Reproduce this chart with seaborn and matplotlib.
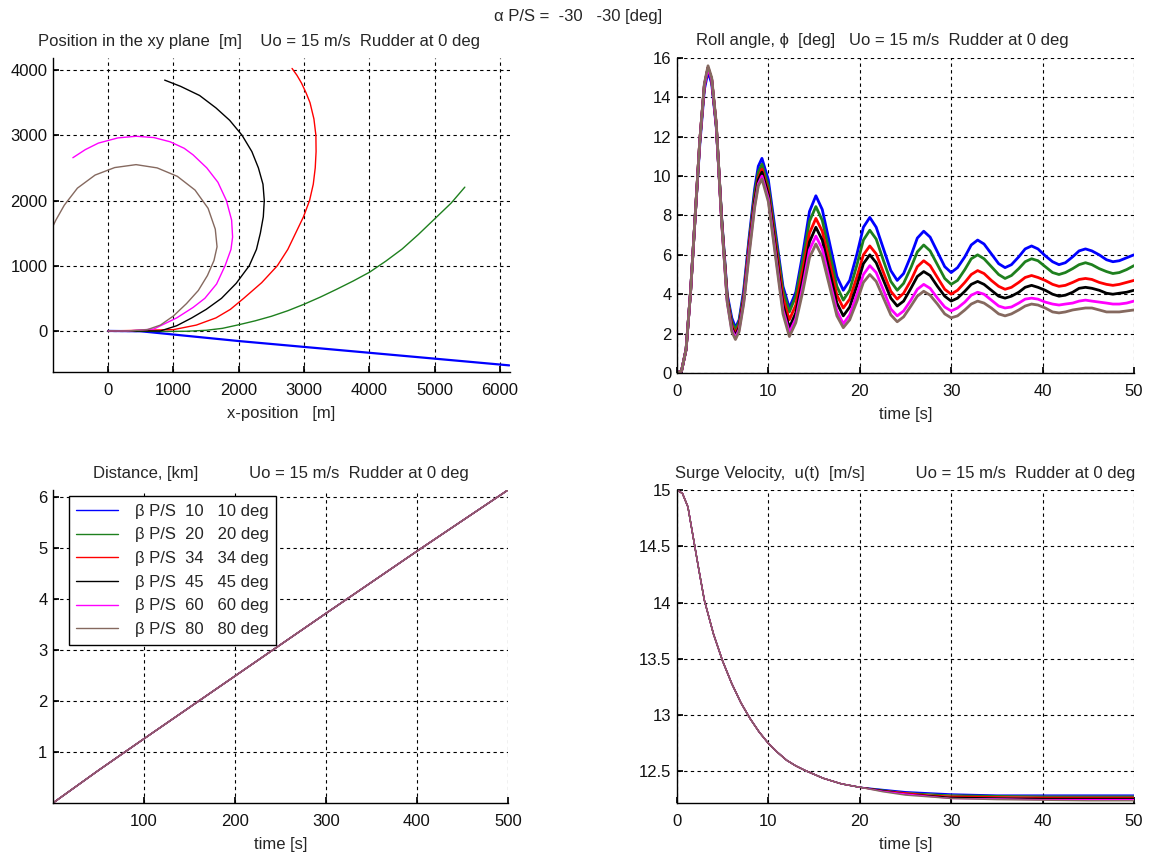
import numpy as np
import pandas as pd
import seaborn as sns
import matplotlib.pyplot as plt

# series colours / legend text
colors = ['#0000ff', '#1e801e', '#ff0000', '#000000', '#ff00ff', '#85695f']
labels = ['β P/S  10   10 deg', 'β P/S  20   20 deg', 'β P/S  34   34 deg',
          'β P/S  45   45 deg', 'β P/S  60   60 deg', 'β P/S  80   80 deg']

# ---- xy trajectories [m]
xy_blue_x = [0, 500, 1000, 2000, 3000, 4000, 5000, 6140]
xy_blue_y = [0, -5, -55, -155, -245, -335, -425, -528]
xy_green_x = [0, 800, 1200, 1500, 1750, 2000, 2250, 2500, 2750, 3000, 3250, 3500, 3750, 4000,
              4250, 4500, 4750, 5000, 5250, 5460]
xy_green_y = [0, -8, -5, 10, 40, 95, 155, 225, 310, 410, 520, 640, 765, 900,
              1070, 1256, 1480, 1720, 1960, 2205]
xy_red_x = [0, 1000, 1350, 1650, 1870, 2075, 2350, 2590, 2750, 2870, 2990, 3083, 3140, 3170,
            3183, 3180, 3150, 3090, 3030, 2960, 2890, 2815]
xy_red_y = [0, 20, 90, 200, 330, 500, 740, 1000, 1250, 1500, 1750, 2000, 2250, 2500,
            2750, 3000, 3250, 3500, 3650, 3800, 3920, 4025]
xy_black_x = [0, 800, 1050, 1280, 1500, 1735, 1960, 2160, 2270, 2330, 2375, 2390, 2370, 2300,
              2200, 2050, 1860, 1650, 1400, 1110, 865]
xy_black_y = [0, 0, 80, 200, 330, 500, 730, 1000, 1250, 1500, 1750, 2000, 2250, 2500,
              2750, 3000, 3230, 3420, 3610, 3750, 3846]
xy_mag_x = [0, 300, 700, 1050, 1300, 1480, 1660, 1790, 1880, 1905, 1890, 1810, 1680, 1510,
            1300, 1165, 950, 700, 427, 150, -150, -350, -540]
xy_mag_y = [0, 0, 30, 200, 360, 500, 720, 1000, 1250, 1440, 1700, 2000, 2280, 2500,
            2700, 2800, 2900, 2965, 2985, 2960, 2880, 2780, 2656]
xy_brown_x = [0, 300, 600, 800, 1000, 1200, 1380, 1520, 1620, 1667, 1640, 1530, 1330, 1060,
              750, 427, 100, -200, -470, -670, -800, -853]
xy_brown_y = [0, 0, 20, 90, 230, 420, 620, 850, 1080, 1290, 1560, 1880, 2160, 2370,
              2500, 2550, 2505, 2390, 2190, 1930, 1700, 1590]

# ---- roll angle [deg]
t_roll = [0, 0.5, 1.0, 1.5, 2.0, 2.5, 3.0, 3.4, 3.8, 4.3, 4.9, 5.5, 6.0, 6.4, 6.8, 7.3, 7.9, 8.5, 8.9,
          9.3, 10.0, 10.8, 11.6, 12.3, 13.0, 13.8, 14.5, 15.2, 15.9, 16.7, 17.5, 18.2, 18.9, 19.7, 20.4,
          21.1, 21.8, 22.6, 23.4, 24.1, 24.8, 25.6, 26.3, 27.0, 27.7, 28.5, 29.3, 30.0, 30.7, 31.5, 32.2,
          32.9, 33.6, 34.4, 35.2, 35.9, 36.6, 37.4, 38.1, 38.8, 39.5, 40.3, 41.1, 41.8, 42.5, 43.3, 44.0,
          44.7, 45.4, 46.2, 47.0, 47.7, 48.4, 49.2, 50.0]
roll_blue = [0, 0.1, 1.2, 4.2, 8.0, 11.6, 14.4, 15.3, 14.7, 12.5, 7.8, 4.0, 2.8, 2.3, 2.7, 4.2, 6.9, 9.35, 10.5,
             10.9, 9.8, 7.1, 4.4, 3.3, 4.1, 6.15, 8.2, 9.0, 8.3, 6.6, 4.9, 4.2, 4.7, 6.05, 7.4, 7.9, 7.4, 6.3,
             5.2, 4.7, 5.05, 5.95, 6.85, 7.2, 6.9, 6.15, 5.4, 5.1, 5.35, 5.9, 6.5, 6.75, 6.55, 6.05, 5.55, 5.35,
             5.5, 5.9, 6.3, 6.45, 6.3, 5.95, 5.65, 5.5, 5.6, 5.9, 6.2, 6.3, 6.2, 6.0, 5.75, 5.65, 5.7, 5.85, 6.0]
roll_green = [0, 0.1, 1.2, 4.2, 8.0, 11.8, 14.6, 15.5, 14.9, 12.6, 7.8, 3.9, 2.6, 2.2, 2.6, 4.0, 6.7, 9.1, 10.2,
              10.6, 9.5, 6.85, 4.2, 3.1, 3.9, 5.8, 7.7, 8.45, 7.75, 6.1, 4.4, 3.7, 4.2, 5.5, 6.75, 7.25, 6.8, 5.7,
              4.65, 4.2, 4.55, 5.35, 6.15, 6.5, 6.2, 5.5, 4.8, 4.5, 4.7, 5.25, 5.8, 6.0, 5.8, 5.4, 5.0, 4.8,
              4.95, 5.3, 5.65, 5.8, 5.7, 5.4, 5.1, 5.0, 5.1, 5.3, 5.5, 5.6, 5.5, 5.3, 5.15, 5.05, 5.1, 5.25, 5.45]
roll_red = [0, 0.1, 1.2, 4.2, 8.0, 11.8, 14.6, 15.5, 14.9, 12.6, 7.7, 3.8, 2.4, 2.0, 2.4, 3.8, 6.5, 8.8, 9.9,
            10.35, 9.2, 6.5, 3.8, 2.7, 3.45, 5.3, 7.1, 7.85, 7.2, 5.6, 3.95, 3.3, 3.75, 4.9, 6.0, 6.45, 6.05, 5.1,
            4.15, 3.75, 4.05, 4.7, 5.4, 5.7, 5.45, 4.85, 4.25, 4.0, 4.2, 4.6, 5.0, 5.2, 5.05, 4.7, 4.4, 4.25,
            4.35, 4.6, 4.85, 4.95, 4.85, 4.7, 4.5, 4.4, 4.45, 4.6, 4.75, 4.8, 4.75, 4.6, 4.5, 4.45, 4.5, 4.6, 4.7]
roll_black = [0, 0.1, 1.2, 4.2, 8.0, 11.8, 14.6, 15.5, 14.9, 12.6, 7.7, 3.7, 2.3, 1.9, 2.3, 3.7, 6.3, 8.7, 9.8,
              10.2, 9.05, 6.25, 3.45, 2.3, 3.05, 4.85, 6.65, 7.4, 6.75, 5.15, 3.55, 2.9, 3.35, 4.45, 5.55, 6.0, 5.6,
              4.7, 3.8, 3.4, 3.65, 4.3, 4.9, 5.15, 4.95, 4.4, 3.9, 3.65, 3.8, 4.15, 4.5, 4.65, 4.5, 4.2, 3.9, 3.8,
              3.9, 4.1, 4.35, 4.45, 4.35, 4.2, 4.0, 3.9, 3.95, 4.1, 4.3, 4.35, 4.3, 4.2, 4.05, 4.0, 4.05, 4.1, 4.2]
roll_mag = [0, 0.1, 1.2, 4.2, 8.0, 11.8, 14.6, 15.5, 14.9, 12.6, 7.6, 3.6, 2.2, 1.8, 2.2, 3.6, 6.2, 8.5, 9.6,
            10.0, 8.85, 6.0, 3.2, 2.05, 2.75, 4.5, 6.25, 6.95, 6.3, 4.7, 3.15, 2.5, 2.95, 4.0, 5.0, 5.45, 5.1, 4.2,
            3.25, 2.9, 3.15, 3.7, 4.25, 4.5, 4.3, 3.8, 3.35, 3.15, 3.3, 3.6, 3.95, 4.1, 4.0, 3.7, 3.4, 3.3,
            3.35, 3.55, 3.75, 3.8, 3.75, 3.6, 3.5, 3.45, 3.5, 3.55, 3.65, 3.7, 3.65, 3.6, 3.55, 3.5, 3.5, 3.55, 3.65]
roll_brown = [0, 0.1, 1.2, 4.2, 8.0, 11.8, 14.7, 15.6, 15.0, 12.7, 7.6, 3.6, 2.1, 1.7, 2.1, 3.5, 6.0, 8.4, 9.5,
              9.85, 8.7, 5.85, 3.0, 1.85, 2.55, 4.2, 5.85, 6.55, 5.9, 4.4, 2.9, 2.3, 2.7, 3.65, 4.6, 5.0, 4.65, 3.8,
              2.95, 2.6, 2.85, 3.4, 3.9, 4.15, 3.95, 3.5, 3.0, 2.8, 2.9, 3.2, 3.5, 3.65, 3.55, 3.3, 3.0, 2.9,
              3.0, 3.2, 3.4, 3.5, 3.45, 3.3, 3.1, 3.05, 3.1, 3.2, 3.25, 3.3, 3.3, 3.2, 3.1, 3.1, 3.1, 3.15, 3.2]

# ---- distance [km]
t_dist = [0, 50, 100, 200, 300, 400, 500]
dist_km = [0, 0.64, 1.26, 2.49, 3.72, 4.94, 6.14]

# ---- surge velocity [m/s]
t_surge = [0, 0.6, 1.2, 1.8, 2.4, 3.0, 4.0, 5.0, 6.0, 7.0, 8.0, 9.0, 10, 11, 12, 13, 14, 16, 18, 20,
           22.5, 25, 27.5, 30, 35, 40, 45, 50]
surge_head = [15.0, 14.97, 14.85, 14.57, 14.29, 14.02, 13.72, 13.48, 13.28, 13.11, 12.97, 12.85, 12.75,
              12.67, 12.60, 12.55, 12.51, 12.44, 12.39, 12.36]
surge_blue = surge_head + [12.34, 12.32, 12.31, 12.30, 12.29, 12.29, 12.29, 12.29]
surge_green = surge_head + [12.335, 12.31, 12.30, 12.29, 12.285, 12.28, 12.28, 12.28]
surge_red = surge_head + [12.33, 12.31, 12.29, 12.28, 12.275, 12.27, 12.27, 12.27]
surge_black = surge_head + [12.33, 12.30, 12.285, 12.27, 12.265, 12.26, 12.26, 12.26]
surge_mag = surge_head + [12.325, 12.30, 12.28, 12.26, 12.255, 12.25, 12.25, 12.25]
surge_brown = surge_head + [12.32, 12.29, 12.275, 12.26, 12.25, 12.245, 12.24, 12.24]

FS = 12

sns.set_theme(style='white')
plt.rcParams['font.family'] = ['Liberation Sans', 'DejaVu Sans']
plt.rcParams['font.size'] = FS

fig = plt.figure(figsize=(11.56, 8.58), dpi=100)
ax_xy = fig.add_axes([0.0458, 0.5664, 0.3953, 0.366])
ax_roll = fig.add_axes([0.5856, 0.5653, 0.3953, 0.3672])
ax_dist = fig.add_axes([0.0458, 0.0641, 0.3936, 0.3648])
ax_surge = fig.add_axes([0.5856, 0.0641, 0.3953, 0.3648])


def matlab_axes(ax):
    for side in ['top', 'right']:
        ax.spines[side].set_visible(False)
    for side in ['left', 'bottom']:
        ax.spines[side].set_color('black')
        ax.spines[side].set_linewidth(1.0)
    ax.grid(True, color='black', linestyle=(0, (3, 3)), linewidth=0.8)
    ax.tick_params(direction='in', length=4, color='black', labelsize=FS,
                   labelcolor='#111111', pad=4, left=True, bottom=True)
    ax.tick_params(axis='x', pad=8)
    ax.set_facecolor('white')


xy_sets = [(xy_blue_x, xy_blue_y), (xy_green_x, xy_green_y), (xy_red_x, xy_red_y),
           (xy_black_x, xy_black_y), (xy_mag_x, xy_mag_y), (xy_brown_x, xy_brown_y)]
for i, (xs, ys) in enumerate(xy_sets):
    sns.lineplot(x=xs, y=ys, sort=False, estimator=None, color=colors[i],
                 linewidth=1.6 if i == 0 else 1.0, ax=ax_xy)
ax_xy.set_xlim(-845, 6150)
ax_xy.set_ylim(-630, 4185)
ax_xy.set_xticks(range(0, 6001, 1000))
ax_xy.set_yticks(range(0, 4001, 1000))
matlab_axes(ax_xy)
ax_xy.set_title('Position in the xy plane  [m]    Uo = 15 m/s  Rudder at 0 deg',
                fontsize=FS, x=0.45, pad=9)
ax_xy.set_xlabel('x-position   [m]', fontsize=FS, labelpad=6)

roll_sets = [roll_blue, roll_green, roll_red, roll_black, roll_mag, roll_brown]
for i, vals in enumerate(roll_sets):
    sns.lineplot(x=t_roll, y=vals, color=colors[i], linewidth=2.0, ax=ax_roll)
ax_roll.set_xlim(0, 50)
ax_roll.set_ylim(0, 16)
ax_roll.set_xticks(range(0, 51, 10))
ax_roll.set_yticks(range(0, 17, 2))
matlab_axes(ax_roll)
ax_roll.set_title('Roll angle, ϕ  [deg]   Uo = 15 m/s  Rudder at 0 deg',
                  fontsize=FS, x=0.45, pad=9)
ax_roll.set_xlabel('time [s]', fontsize=FS, labelpad=6)

for i in range(6):
    sns.lineplot(x=t_dist, y=dist_km, color=colors[i], linewidth=1.0,
                 label=labels[i], ax=ax_dist)
ax_dist.set_xlim(0, 500)
ax_dist.set_ylim(0, 6.14)
ax_dist.set_xticks(range(100, 501, 100))
ax_dist.set_yticks(range(1, 7))
matlab_axes(ax_dist)
ax_dist.set_title('Distance, [km]           Uo = 15 m/s  Rudder at 0 deg',
                  fontsize=FS, pad=9)
ax_dist.set_xlabel('time [s]', fontsize=FS, labelpad=6)
leg = ax_dist.legend(loc='upper left', bbox_to_anchor=(0.035, 0.98), borderaxespad=0,
                     fontsize=FS, fancybox=False, framealpha=1, edgecolor='black',
                     handlelength=2.5, handletextpad=1.0, labelspacing=0.52,
                     borderpad=0.45)
leg.get_frame().set_linewidth(1.0)

surge_sets = [surge_blue, surge_green, surge_red, surge_black, surge_mag, surge_brown]
for i, vals in enumerate(surge_sets):
    sns.lineplot(x=t_surge, y=vals, color=colors[i], linewidth=1.0, ax=ax_surge)
ax_surge.set_xlim(0, 50)
ax_surge.set_ylim(12.22, 15.0)
ax_surge.set_xticks(range(0, 51, 10))
surge_ticks = [12.5, 13, 13.5, 14, 14.5, 15]
ax_surge.set_yticks(surge_ticks)
ax_surge.set_yticklabels(['%g' % v for v in surge_ticks])
matlab_axes(ax_surge)
ax_surge.set_title('Surge Velocity,  u(t)  [m/s]           Uo = 15 m/s  Rudder at 0 deg',
                   fontsize=FS, pad=9)
ax_surge.set_xlabel('time [s]', fontsize=FS, labelpad=6)

fig.text(0.5, 0.981, 'α P/S =  -30   -30 [deg]', ha='center', va='center', fontsize=FS)

fig.savefig('out.png', dpi=100, facecolor='white')
